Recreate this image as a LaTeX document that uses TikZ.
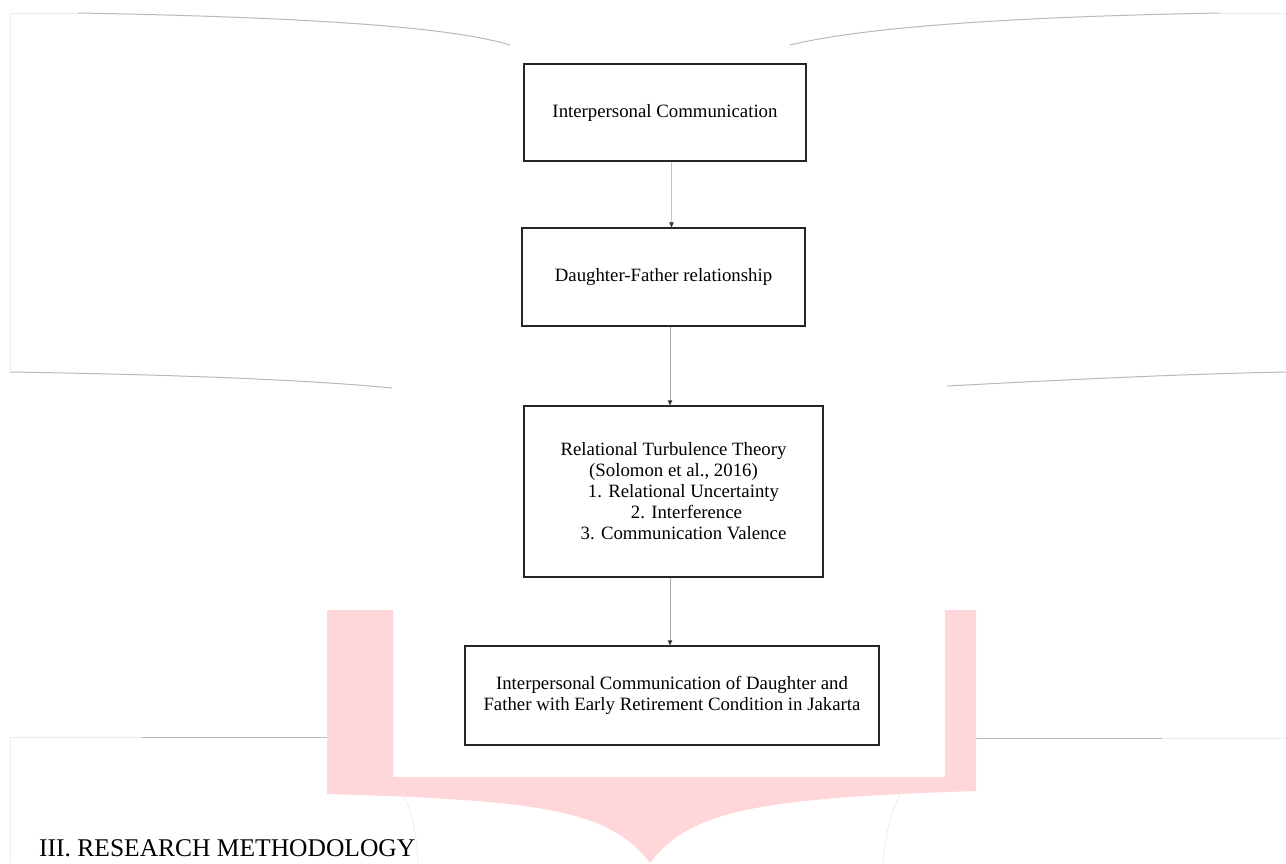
\documentclass[tikz,border=0pt]{standalone}
\usepackage{fontspec}
\setmainfont{Liberation Serif}
\usetikzlibrary{arrows.meta}
\definecolor{bracepink}{RGB}{255,214,218}

\begin{document}
\begin{tikzpicture}[
    x=1pt, y=-1pt,
    stage/.style={draw=black!85, line width=1.3pt, rectangle, inner sep=0pt,
        align=center, font=\fontsize{18.8}{21}\selectfont},
    flow/.style={draw=gray!70, line width=0.9pt,
        -{Triangle[length=5pt,width=4.5pt,color=black!80,fill=black!80]}},
    guide/.style={draw=gray!55, line width=1pt},
    guidefaint/.style={draw=gray!15, line width=0.8pt}
]
    \useasboundingbox (0,0) rectangle (1286,863);
    % pink brace behind the last box
    \fill[bracepink] (327,610) -- (393,610) -- (393,777) -- (945,777) -- (945,610)
        -- (976,610) -- (976,791) .. controls (760,798) and (690,810) .. (650,863)
        .. controls (610,810) and (540,800) .. (327,794) -- cycle;
    % faint page guides
    \draw[guidefaint] (10,13) -- (10,372);
    \draw[guidefaint] (10,737) -- (10,863);
    \draw[guidefaint] (10,13) -- (78,13);
    \draw[guide] (78,13) .. controls (350,18) and (460,30) .. (510,45);
    \draw[guide] (790,45) .. controls (860,28) and (1000,17) .. (1220,13);
    \draw[guidefaint] (1220,13) -- (1286,13);
    \draw[guide] (10,372) .. controls (200,375) and (320,381) .. (392,388);
    \draw[guide] (947,386) .. controls (1060,380) and (1180,374) .. (1286,372);
    \draw[guidefaint] (10,737) -- (142,737);
    \draw[guide] (142,737) -- (327,737);
    \draw[guide] (976,738) -- (1162,738);
    \draw[guidefaint] (1162,738) -- (1286,738);
    \draw[guidefaint] (403,795) .. controls (414,815) and (417,840) .. (418,863);
    \draw[guidefaint] (900,795) .. controls (889,815) and (885,840) .. (883,863);
    % framework boxes
    \node[stage, minimum width=282pt, minimum height=97pt] (comm) at (665,112.5)
        {Interpersonal Communication};
    \node[stage, minimum width=283pt, minimum height=98pt] (rel) at (663.5,277)
        {Daughter-Father relationship};
    \node[stage, minimum width=299pt, minimum height=171pt] (rtt) at (673.5,491.5)
        {Relational Turbulence Theory\\(Solomon et al., 2016)\\
        \hspace*{20pt}1. Relational Uncertainty\\\hspace*{26pt}2. Interference\\
        \hspace*{20pt}3. Communication Valence};
    \node[stage, minimum width=414pt, minimum height=99pt] (ret) at (672,695.5)
        {Interpersonal Communication of Daughter and\\Father with Early Retirement Condition in Jakarta};
    % connectors
    \draw[flow, draw=gray!45] ([xshift=6.5pt]comm.south) -- ([xshift=6.5pt]comm.south |- rel.north);
    \draw[flow] ([xshift=6.5pt]rel.south) -- ([xshift=6.5pt]rel.south |- rtt.north);
    \draw[flow] ([xshift=-3.5pt]rtt.south) -- ([xshift=-3.5pt]rtt.south |- ret.north);
    % section heading
    \node[anchor=base west, inner sep=0pt, font=\fontsize{25.5}{28}\selectfont] (head) at (39,856)
        {III. RESEARCH METHODOLOGY};
\end{tikzpicture}
\end{document}
